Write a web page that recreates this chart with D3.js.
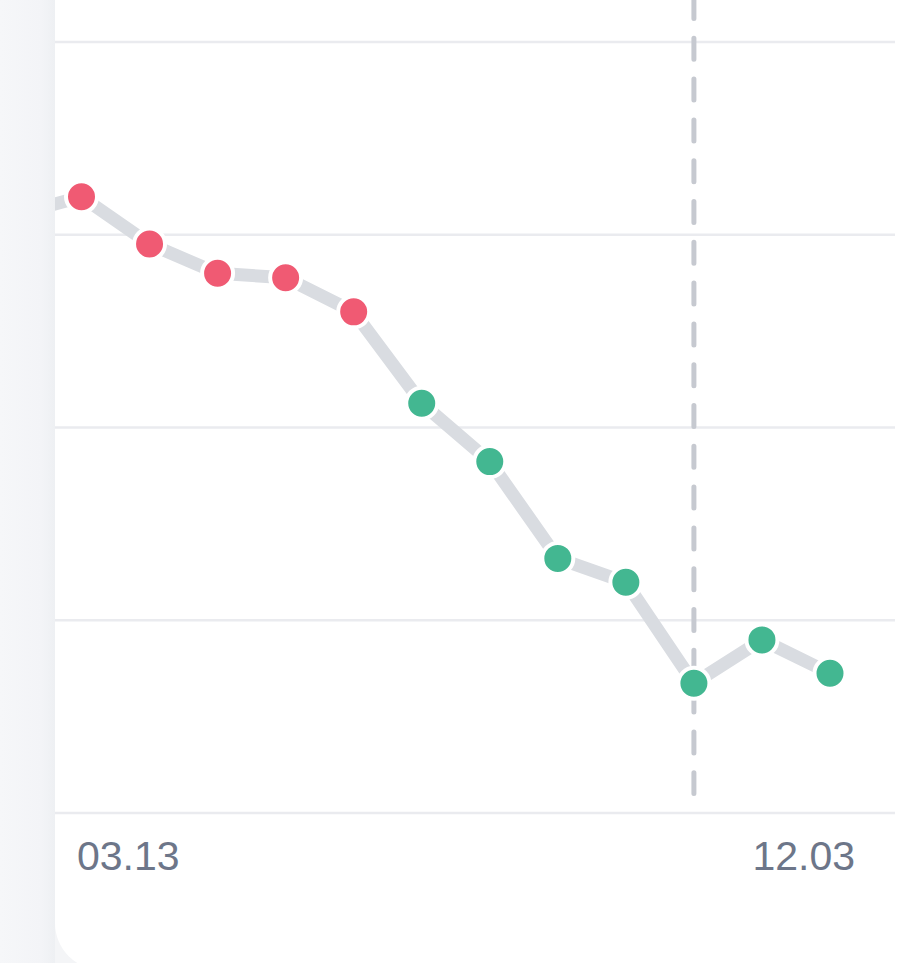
<!DOCTYPE html>
<html>
<head>
<meta charset="utf-8">
<script src="https://cdn.jsdelivr.net/npm/d3@7"></script>
<style>
  html, body { margin: 0; padding: 0; background: #f4f5f7; }
  svg { display: block; }
</style>
</head>
<body>
<svg id="chart" width="923" height="963"></svg>
<script>
// ---- data ----
const indices = [0, 1, 2, 3, 4, 5, 6, 7, 8, 9, 10, 11];
const values = [31.97, 29.52, 28.0, 27.77, 26.0, 21.26, 18.23, 13.21, 11.97, 6.73, 8.98, 7.25];
const status = ["high", "high", "high", "high", "high", "normal", "normal", "normal", "normal", "normal", "normal", "normal"];
const previousValue = 31.0;            // point just outside the visible window (index -1)
const markerIndex = 9;                 // dashed vertical marker
const yTicks = [0, 10, 20, 30, 40];
const xLabels = ["03.13", "12.03"];

// ---- layout ----
const W = 923, H = 963;
const cardX = 55;
const svg = d3.select("#chart");

const defs = svg.append("defs");
const grad = defs.append("linearGradient").attr("id", "edge").attr("x1", 0).attr("x2", 1).attr("y1", 0).attr("y2", 0);
grad.append("stop").attr("offset", "0%").attr("stop-color", "#f6f7f9");
grad.append("stop").attr("offset", "75%").attr("stop-color", "#f3f4f7");
grad.append("stop").attr("offset", "100%").attr("stop-color", "#eef0f3");
svg.append("rect").attr("x", 0).attr("y", 0).attr("width", cardX).attr("height", H).attr("fill", "url(#edge)");

// card
svg.append("rect").attr("x", cardX).attr("y", -100).attr("width", 1000).attr("height", 1070)
  .attr("rx", 47).attr("fill", "#ffffff");

defs.append("clipPath").attr("id", "cardClip")
  .append("rect").attr("x", cardX).attr("y", -100).attr("width", 1000).attr("height", 1070).attr("rx", 47);

const x = d3.scaleLinear().domain([0, 11]).range([81.5, 830]);
const y = d3.scaleLinear().domain([0, 40]).range([813, 42]);

const g = svg.append("g").attr("clip-path", "url(#cardClip)");

// grid
g.append("g").selectAll("line").data(yTicks).join("line")
  .attr("x1", cardX).attr("x2", 895)
  .attr("y1", d => y(d)).attr("y2", d => y(d))
  .attr("stroke", "#eaebef").attr("stroke-width", 2.5);

// dashed marker
g.append("line")
  .attr("x1", x(markerIndex)).attr("x2", x(markerIndex))
  .attr("y1", y(40) - 44.5).attr("y2", y(0) - 19.5)
  .attr("stroke", "#c6c9d0").attr("stroke-width", 5)
  .attr("stroke-linecap", "round").attr("stroke-dasharray", "21,19.8");

// line
const pts = [{i: -1, v: previousValue}].concat(indices.map((i, k) => ({i, v: values[k]})));
g.append("path").datum(pts)
  .attr("d", d3.line().x(d => x(d.i)).y(d => y(d.v)))
  .attr("fill", "none").attr("stroke", "#d9dce1").attr("stroke-width", 13)
  .attr("stroke-linejoin", "round");

// points
const colors = {high: "#f05a73", normal: "#43b791"};
g.append("g").selectAll("circle").data(indices).join("circle")
  .attr("cx", d => x(d)).attr("cy", (d, k) => y(values[k]))
  .attr("r", 15.5)
  .attr("fill", (d, k) => colors[status[k]])
  .attr("stroke", "#ffffff").attr("stroke-width", 4);

// x labels
const labelY = 870;
svg.append("text").attr("x", x(0) - 4.5).attr("y", labelY)
  .attr("text-anchor", "start")
  .attr("font-family", "'Liberation Sans', Arial, sans-serif").attr("font-size", 41)
  .attr("fill", "#6d7689").text(xLabels[0]);
svg.append("text").attr("x", x(11) + 25).attr("y", labelY)
  .attr("text-anchor", "end")
  .attr("font-family", "'Liberation Sans', Arial, sans-serif").attr("font-size", 41)
  .attr("fill", "#6d7689").text(xLabels[1]);
</script>
</body>
</html>
